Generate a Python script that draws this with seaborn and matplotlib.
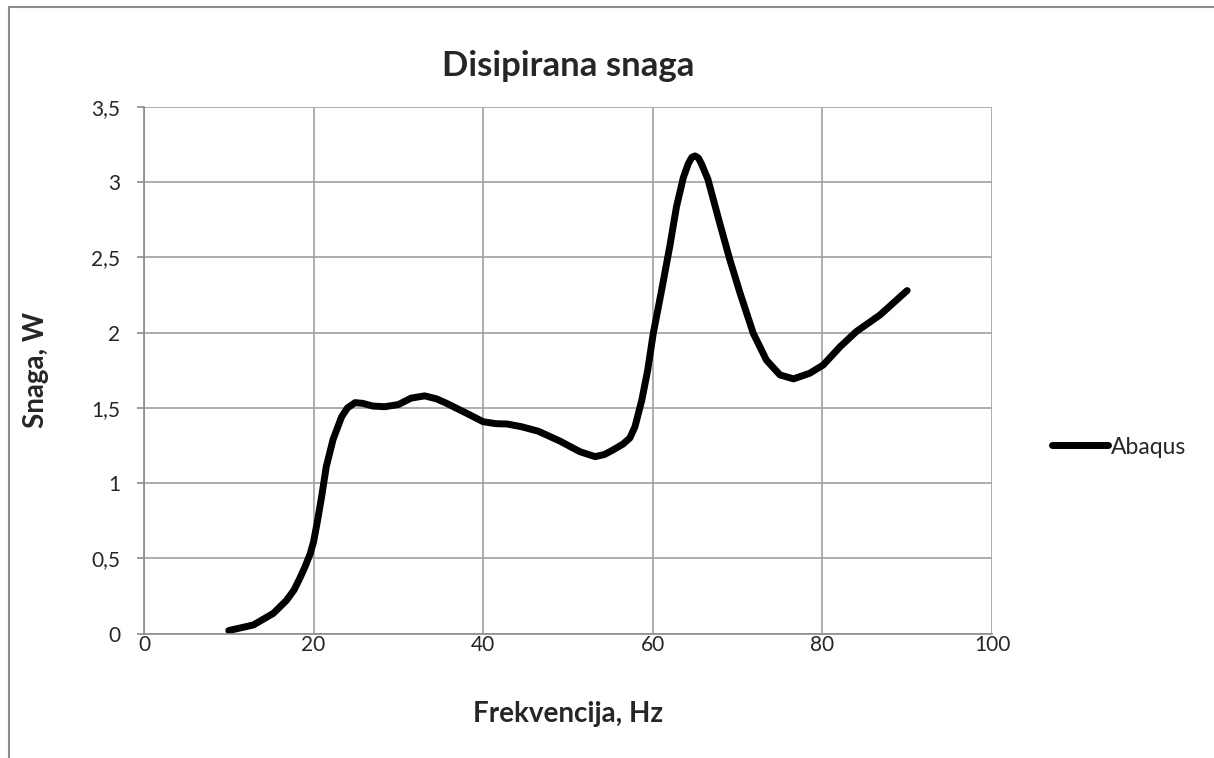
#!/usr/bin/env python

"""
Plot dissipated power against frequency (Abaqus result)
"""

import matplotlib

matplotlib.use("Agg")

import matplotlib.pyplot as plt
import pandas as pd
import seaborn as sns
from matplotlib.lines import Line2D
from matplotlib.ticker import FuncFormatter

# Values
freq = [
    10.0, 12.9, 15.25, 16.8, 17.7, 18.4, 19.0, 19.6, 20.0, 20.4,
    20.95, 21.5, 22.3, 23.3, 24.0, 24.9, 25.8, 27.0, 28.4, 30.0,
    31.5, 33.1, 34.5, 35.7, 38.05, 40.0, 41.5, 42.8, 44.5, 46.5,
    49.1, 51.4, 53.2, 54.3, 55.3, 56.5, 57.3, 57.9, 58.7, 59.4,
    60.06, 61.05, 62.0, 62.8, 63.6, 64.2, 64.6, 65.0, 65.4, 65.8,
    66.5, 67.9, 69.1, 70.3, 71.85, 73.4, 75.0, 76.6, 78.5, 80.1,
    82.1, 84.0, 86.8, 90.0,
]
power = [
    0.02, 0.057, 0.134, 0.22, 0.29, 0.37, 0.445, 0.53, 0.61, 0.73,
    0.91, 1.11, 1.29, 1.44, 1.50, 1.535, 1.53, 1.512, 1.508, 1.522,
    1.565, 1.58, 1.56, 1.53, 1.464, 1.408, 1.395, 1.393, 1.375, 1.345,
    1.278, 1.209, 1.176, 1.19, 1.22, 1.26, 1.30, 1.375, 1.55, 1.75,
    1.996, 2.284, 2.572, 2.838, 3.03, 3.125, 3.165, 3.175, 3.16, 3.115,
    3.02, 2.727, 2.483, 2.262, 1.996, 1.818, 1.719, 1.693, 1.73, 1.785,
    1.907, 2.007, 2.118, 2.28,
]
series_name = "Abaqus"

x_ticks = [0, 20, 40, 60, 80, 100]
y_ticks = [0, 0.5, 1, 1.5, 2, 2.5, 3, 3.5]

title = "Disipirana snaga"
x_label = "Frekvencija, Hz"
y_label = "Snaga, W"


def comma(value, pos):
    """Format tick value with decimal comma"""
    return f"{value:g}".replace(".", ",")


def plot_power(data):
    """
    Plot dissipated power

    :param data: DataFrame with frequency and power

    :return: matplotlib figure
    """

    sns.set_style("white")
    plt.rcParams["font.family"] = ["Lato", "DejaVu Sans"]

    fig = plt.figure(figsize=(12.14, 7.58), dpi=100)
    ax = fig.add_axes([0.1186, 0.1642, 0.8171 - 0.1186, 0.8588 - 0.1642])

    grey = "#8c8c8c"

    sns.lineplot(
        data=data,
        x="Frekvencija",
        y="Snaga",
        sort=False,
        color="black",
        linewidth=5,
        solid_capstyle="round",
        solid_joinstyle="round",
        ax=ax,
        legend=False,
    )

    ax.set_xlim(0, 100)
    ax.set_ylim(0, 3.5)
    ax.set_xticks(x_ticks)
    ax.set_yticks(y_ticks)
    ax.xaxis.set_major_formatter(FuncFormatter(comma))
    ax.yaxis.set_major_formatter(FuncFormatter(comma))

    ax.grid(True, color="#a0a0a0", linewidth=1.2)
    ax.set_axisbelow(True)
    for side in ["top", "right"]:
        ax.spines[side].set_visible(False)
    for side in ["left", "bottom"]:
        ax.spines[side].set_color(grey)
        ax.spines[side].set_linewidth(1.2)

    ax.tick_params(axis="y", direction="out", length=5, width=1.2, color=grey,
                   labelsize=15, pad=12, left=True)
    ax.tick_params(axis="x", direction="out", length=0, width=1.2, color=grey,
                   labelsize=15, pad=1, bottom=True)

    ax.set_title(title, fontsize=25, fontweight="bold", pad=22)
    ax.set_xlabel(x_label, fontsize=20, fontweight="bold")
    ax.set_ylabel(y_label, fontsize=20, fontweight="bold")
    ax.xaxis.set_label_coords(0.5, -0.128)
    ax.yaxis.set_label_coords(-0.112, 0.5)

    # Legend on the right
    handle = Line2D([], [], color="black", linewidth=5, solid_capstyle="round")
    fig.legend(
        [handle],
        [series_name],
        loc="center left",
        bbox_to_anchor=(1052 / 1214, 1 - 447 / 758),
        frameon=False,
        fontsize=16.5,
        handlelength=2.45,
        handletextpad=0.14,
        borderpad=0,
        borderaxespad=0,
    )

    # Chart area border
    fig.add_artist(Line2D([9 / 1214, 9 / 1214], [0, 1 - 7 / 758],
                          transform=fig.transFigure, color=grey, linewidth=1.5))
    fig.add_artist(Line2D([9 / 1214, 1], [1 - 7 / 758, 1 - 7 / 758],
                          transform=fig.transFigure, color=grey, linewidth=1.5))

    return fig


def main():
    """The main script function"""
    data = pd.DataFrame({"Frekvencija": freq, "Snaga": power})
    fig = plot_power(data)
    fig.savefig("out.png", dpi=100)


if __name__ == "__main__":
    main()
